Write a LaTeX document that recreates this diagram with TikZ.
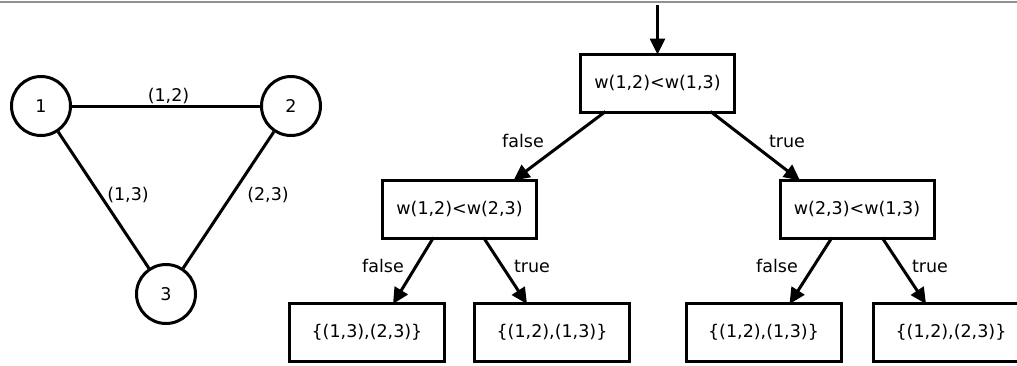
\documentclass[tikz,border=0pt]{standalone}
\usepackage{fontspec}
\setmainfont{DejaVu Sans}
\usetikzlibrary{arrows.meta}
\definecolor{rulegray}{RGB}{145,145,145}
\begin{document}
\begin{tikzpicture}[x=1pt,y=-1pt,
  every node/.style={font=\fontsize{17.5}{21}\selectfont},
  vert/.style={draw,circle,line width=3pt,minimum size=59pt,inner sep=0pt},
  edge/.style={line width=3pt},
  test/.style={draw,rectangle,line width=3pt,minimum width=154pt,minimum height=58pt,inner sep=0pt},
  leaf/.style={draw,rectangle,line width=3pt,minimum width=155pt,minimum height=58pt,inner sep=0pt},
  arr/.style={line width=3pt,-{Triangle[length=16pt,width=15pt]}},
  lbl/.style={inner sep=0pt}]
\useasboundingbox (0,0) rectangle (1017,365);
\clip (0,0) rectangle (1017,365);
\draw[rulegray,line width=2pt] (0,1.8) -- (1017,1.8);
% graph
\node[vert] (c1) at (41,106) {1};
\node[vert] (c2) at (291,106) {2};
\node[vert] (c3) at (166,294) {3};
\draw[edge] (c1) -- (c2);
\draw[edge] (c1) -- (c3);
\draw[edge] (c2) -- (c3);
\node[lbl] (l12) at (168.5,96) {(1,2)};
\node[lbl] (l13) at (128,195) {(1,3)};
\node[lbl] (l23) at (268,195) {(2,3)};
% tree
\node[test] (root) at (657.5,83) {w(1,2)<w(1,3)};
\node[test] (left) at (459.5,209) {w(1,2)<w(2,3)};
\node[test] (right) at (857,209) {w(2,3)<w(1,3)};
\node[leaf] (f1) at (367,332.5) {\{(1,3),(2,3)\}};
\node[leaf] (f2) at (552,332.5) {\{(1,2),(1,3)\}};
\node[leaf] (f3) at (763.5,332.5) {\{(1,2),(1,3)\}};
\node[leaf] (f4) at (951,332.5) {\{(1,2),(2,3)\}};
\coordinate (start) at (657.5,5);
\draw[arr] (start) -- ([yshift=-2pt]root.north);
\draw[arr] ([xshift=-52pt,yshift=2pt]root.south) -- ([xshift=54pt,yshift=-2pt]left.north);
\draw[arr] ([xshift=53pt,yshift=2pt]root.south) -- ([xshift=-57pt,yshift=-2pt]right.north);
\draw[arr] ([xshift=-26pt,yshift=2pt]left.south) -- ([xshift=26pt,yshift=-2pt]f1.north);
\draw[arr] ([xshift=24pt,yshift=2pt]left.south) -- ([xshift=-25pt,yshift=-2pt]f2.north);
\draw[arr] ([xshift=-25pt,yshift=2pt]right.south) -- ([xshift=26pt,yshift=-2pt]f3.north);
\draw[arr] ([xshift=25pt,yshift=2pt]right.south) -- ([xshift=-25pt,yshift=-2pt]f4.north);
\node[lbl] (t1) at (523,141) {false};
\node[lbl] (t2) at (787,141) {true};
\node[lbl] (t3) at (383,266) {false};
\node[lbl] (t4) at (532,266) {true};
\node[lbl] (t5) at (777,266) {false};
\node[lbl] (t6) at (930,266) {true};
\end{tikzpicture}
\end{document}
